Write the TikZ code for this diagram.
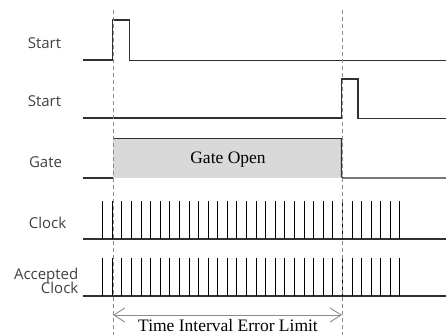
\documentclass[tikz,border=0pt]{standalone}
\usepackage{fontspec}
\setmainfont{Liberation Serif}
\newfontfamily\labelfont{Open Sans}
\usetikzlibrary{arrows.meta}
\definecolor{sig}{HTML}{303030}
\definecolor{guide}{HTML}{8C8C8C}
\definecolor{gatefill}{HTML}{D9D9D9}
\definecolor{labeltext}{HTML}{404040}
\tikzset{
  wave/.style={draw=sig, line width=1.3pt, line join=miter},
  tick/.style={draw=black, line width=1.8pt},
  guideline/.style={draw=guide, line width=0.9pt, dash pattern=on 4pt off 3pt},
  siglabel/.style={font=\labelfont\fontsize{15}{15.5}\selectfont, text=labeltext, inner sep=0pt},
  serifnote/.style={font=\fontsize{17.5}{18}\selectfont, text=black, inner sep=0pt},
  span/.style={draw=guide, line width=0.9pt, {Straight Barb[length=11pt,width=14pt]}-{Straight Barb[length=11pt,width=14pt]}}
}
\begin{document}
\begin{tikzpicture}[x=1pt,y=-1pt]
\useasboundingbox (0,0) rectangle (446,335);

% signal names
\node[siglabel] (lstart1) at (44.5,43) {Start};
\node[siglabel] (lstart2) at (44.5,101) {Start};
\node[siglabel] (lgate) at (45.5,162) {Gate};
\node[siglabel] (lclock) at (47.5,223) {Clock};
\node[siglabel, align=right, anchor=east] (lacc) at (78.5,281) {Accepted\\[-1pt]Clock};

% Gate open interval
\fill[gatefill] (113,138) rectangle (341.5,178);
\node[serifnote] (gtext) at (228,160) {Gate Open};
\draw[wave] (83,178) -- (113,178);
\draw[wave] (113,138.5) -- (341.5,138.5);
\draw[wave, rounded corners=1.5pt] (341.5,138.5) -- (341.5,178) -- (446,178);

% first start pulse
\draw[wave] (83,60) -- (112.5,60) -- (112.5,20) -- (129.5,20) -- (129.5,60.5) -- (446,60.5);
% second start pulse
\draw[wave] (83,118) -- (341.5,118) -- (341.5,79) -- (358,79) -- (358,118.5) -- (446,118.5);

% clock trains, ticks snapped to whole pixels
\draw[wave] (83,239) -- (446,239);
\draw[wave] (83,296) -- (446,296);
\foreach \k in {0,...,31}{
  \pgfmathsetmacro{\xx}{floor(102.7+9.59*\k)+0.5}
  \draw[tick] (\xx,201) -- (\xx,239);
  \draw[tick] (\xx,258) -- (\xx,296);
}

% interval limits
\coordinate (gTop1) at (113,10);
\coordinate (gBot1) at (113,335);
\coordinate (gTop2) at (342,10);
\coordinate (gBot2) at (342,335);
\draw[guideline] (gTop1) -- (gBot1);
\draw[guideline] (gTop2) -- (gBot2);

\coordinate (aL) at (113,315);
\coordinate (aR) at (342,315);
\draw[span] (aL) -- (aR);
\node[serifnote] (elimit) at (228,325.5) {Time Interval Error Limit};
\end{tikzpicture}
\end{document}
